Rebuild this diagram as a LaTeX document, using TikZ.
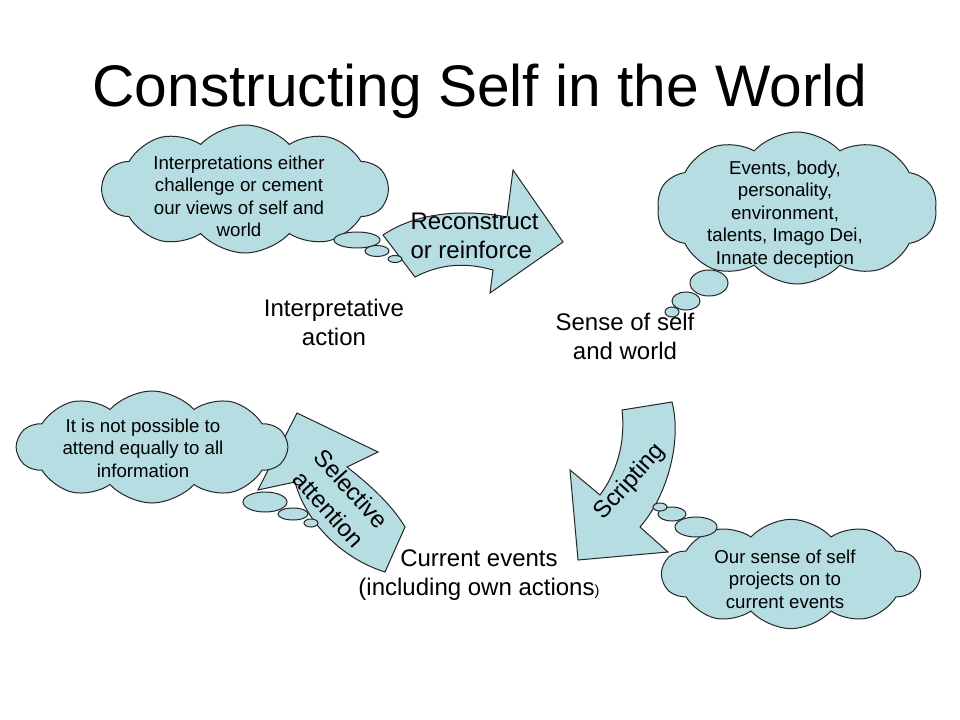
\documentclass[tikz,border=0pt]{standalone}
\usepackage{fontspec}
\setmainfont{Liberation Sans}
\usetikzlibrary{shapes.symbols}
\definecolor{cloudblue}{RGB}{182,221,226}
\tikzset{
 thought/.style={cloud, draw=black!85, fill=cloudblue, cloud puffs=10, cloud puff arc=95, cloud ignores aspect, inner sep=0pt},
 bubble/.style={draw=black!85, fill=cloudblue},
 bigarrow/.style={draw=black!85, fill=cloudblue, line join=miter},
 cloudtext/.style={inner sep=0pt, anchor=north, align=center, font=\fontsize{14}{16.9}\selectfont},
 steptext/.style={inner sep=0pt, anchor=north, align=center, font=\fontsize{18}{21.75}\selectfont},
}
\begin{document}
\begin{tikzpicture}[x=0.75pt, y=-0.75pt, line width=0.75pt]
\useasboundingbox (0,0) rectangle (960,720);
\fill[white] (0,0) rectangle (960,720);
\node[anchor=base, inner sep=0pt, font=\fontsize{44}{53}\selectfont] (title) at (480,107) {Constructing Self in the World};

\draw[bigarrow] (383,235) .. controls (420,210) and (470,210) .. (507,217) -- (513,170) -- (563,242) -- (490,293) -- (493,270) .. controls (465,262) and (440,264) .. (415,277) -- cycle;
\draw[bigarrow] (622,410) -- (672,402) .. controls (682,440) and (668,495) .. (640,527) -- (668,552) -- (578,560) -- (570,470) -- (600,495) .. controls (615,475) and (626,445) .. (622,410) -- cycle;
\draw[bigarrow] (297,413) -- (378,452) -- (347,467) .. controls (370,485) and (392,505) .. (405,527) -- (385,572) .. controls (340,558) and (305,520) .. (295,482) -- (258,490) -- cycle;

\node[thought, minimum width=214pt, minimum height=96pt] (interp) at (245,189) {};
\node[thought, minimum width=210pt, minimum height=114pt] (events) at (797,208) {};
\node[thought, minimum width=202pt, minimum height=84pt] (attend) at (152,447) {};
\node[thought, minimum width=193pt, minimum height=82pt] (project) at (791,574) {};

\foreach \bx/\by/\rx/\ry in {357/240/23/8, 377/251/12/5.5, 395/259/7/3.5,
  709/283/19/13, 686/301/14/9, 672/312/7/5,
  265/502/22/10, 293/514/15/6, 311/523/7/4,
  696/527/21/10, 672/514/14/7, 660/507/7/4}
 \draw[bubble] (\bx,\by) ellipse ({\rx} and {\ry});

\node[cloudtext] (interptext) at (239,155) {Interpretations either\\challenge or cement\\our views of self and\\world};
\node[cloudtext] (eventstext) at (785,160) {Events, body,\\personality,\\environment,\\talents, Imago Dei,\\Innate deception};
\node[cloudtext] (attendtext) at (143,418) {It is not possible to\\attend equally to all\\information};
\node[cloudtext] (projecttext) at (785,549) {Our sense of self\\projects on to\\current events};

\node[steptext, anchor=north west, align=left] (reconstruct) at (410,212) {Reconstruct\\or reinforce};
\node[steptext] (action) at (334,299) {Interpretative\\action};
\node[steptext] (sense) at (625,313) {Sense of self\\and world};
\node[steptext] (current) at (479,549) {Current events\\(including own actions{\fontsize{11}{12}\selectfont)}};
\node[steptext, anchor=center, rotate=48] (scripting) at (630,482) {Scripting};
\node[steptext, anchor=center, rotate=-48, font=\fontsize{18}{23}\selectfont] (selective) at (340,499) {Selective\\attention};
\end{tikzpicture}
\end{document}
